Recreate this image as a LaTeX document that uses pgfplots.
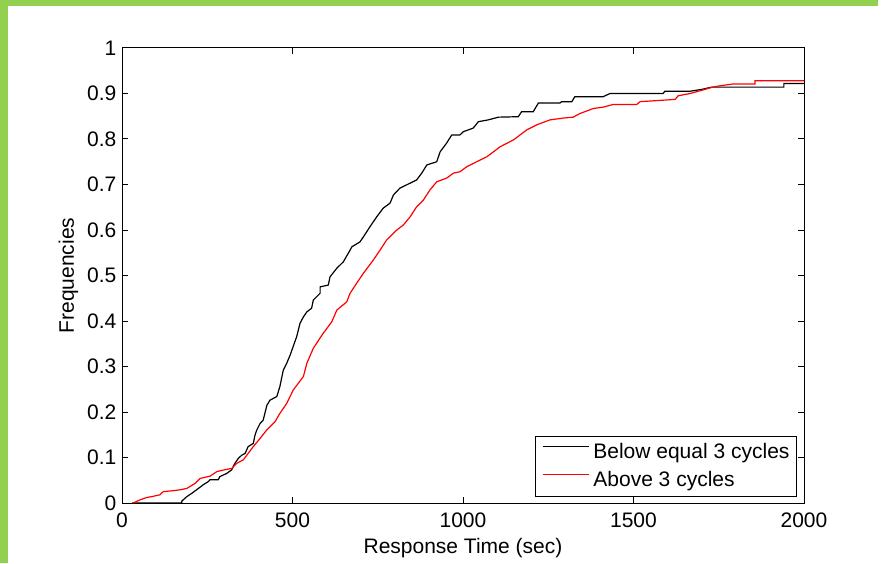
\documentclass[border=0pt]{standalone}
\usepackage{fontspec}
\setmainfont{Liberation Sans}
\usepackage{pgfplots}
\pgfplotsset{compat=1.18}
\definecolor{framegreen}{RGB}{146,208,80}

\begin{document}
\fontsize{10.5}{12.6}\selectfont
\begin{tikzpicture}
\useasboundingbox (0,0) rectangle (441.5pt,281.5pt);
\fill[white] (0,0) rectangle (441.5pt,281.5pt);
\fill[framegreen] (0,278.5pt) rectangle (439pt,281.5pt);
\fill[framegreen] (0,0) rectangle (4pt,281.5pt);
\begin{axis}[
  at={(61pt,30pt)}, anchor=south west,
  scale only axis, width=341pt, height=227.5pt,
  xmin=0, xmax=2000, ymin=0, ymax=1,
  xtick={0,500,1000,1500,2000},
  xticklabels={0,500,1000,1500,2000},
  ytick={0,0.1,0.2,0.3,0.4,0.5,0.6,0.7,0.8,0.9,1},
  yticklabels={0,0.1,0.2,0.3,0.4,0.5,0.6,0.7,0.8,0.9,1},
  xtick pos=both, ytick pos=both,
  tick align=inside,
  major tick length=3pt,
  axis line style={line width=0.5pt, black},
  every tick/.style={line width=0.5pt, black},
  tick label style={font=\fontsize{10.5}{12.6}\selectfont},
  yticklabel style={inner sep=0pt, anchor=east, xshift=-2.65pt},
  xticklabel style={inner sep=0pt, anchor=north, yshift=-4.5pt},
  xlabel={Response Time (sec)},
  ylabel={Frequencies},
  label style={font=\fontsize{10.5}{12.6}\selectfont},
  xlabel style={at={(axis description cs:0.5,-0.1099)}, anchor=base, inner sep=0pt},
  ylabel style={at={(axis description cs:-0.0704,0.5)}, anchor=base, rotate=0, inner sep=0pt},
  legend style={at={(rel axis cs:1,0)}, anchor=south east, xshift=-3.5pt, yshift=3pt,
    draw=black, line width=0.5pt, fill=white,
    inner xsep=3.5pt, inner ysep=1pt, row sep=0pt,
    font=\fontsize{10.5}{12.6}\selectfont,
    nodes={inner sep=0pt, text height=8pt, text depth=2.5pt, inner ysep=1.75pt},
    /tikz/every odd column/.style={column sep=2pt}},
  legend cell align=left,
  legend image code/.code={\draw[#1] (0pt,3pt) -- (23pt,3pt);},
]
\addplot[black, line width=0.6pt] coordinates {
(30,0) (175,0) (175,0.004) (190,0.014) (204,0.021) (224,0.032) (238,0.040)
(253,0.047) (258,0.051) (282,0.051) (287,0.058) (307,0.065) (322,0.073)
(326,0.080) (331,0.087) (341,0.098) (351,0.105) (361,0.109) (370,0.124)
(385,0.131) (390,0.149) (395,0.160) (405,0.175) (414,0.182) (425,0.215)
(434,0.226) (454,0.234) (463,0.256) (473,0.292) (483,0.307) (493,0.325)
(502,0.344) (512,0.365) (522,0.395) (532,0.409) (542,0.420) (556,0.428)
(561,0.446) (581,0.461) (581,0.475) (605,0.479) (610,0.497) (630,0.516)
(649,0.530) (669,0.556) (674,0.563) (698,0.574) (708,0.585) (727,0.607)
(747,0.629) (766,0.648) (786,0.659) (796,0.677) (815,0.692) (845,0.703)
(864,0.710) (879,0.725) (894,0.743) (923,0.750) (933,0.772) (952,0.791)
(967,0.809) (991,0.809) (1001,0.816) (1030,0.824) (1045,0.838) (1074,0.842)
(1104,0.848) (1162,0.849) (1172,0.860) (1206,0.860) (1221,0.879) (1284,0.879)
(1289,0.882) (1319,0.882) (1328,0.893) (1411,0.893) (1431,0.900) (1587,0.900)
(1592,0.905) (1666,0.905) (1700,0.909) (1729,0.914) (1856,0.914) (1941,0.914)
(1941,0.922) (2000,0.922)
};
\addlegendentry{Below equal 3 cycles}
\addplot[red, line width=0.6pt] coordinates {
(33,0) (53,0.007) (72,0.012) (87,0.014) (111,0.018) (121,0.025) (150,0.027)
(170,0.029) (190,0.032) (214,0.043) (229,0.054) (258,0.059) (278,0.069)
(307,0.074) (322,0.076) (336,0.087) (356,0.095) (370,0.109) (385,0.124)
(405,0.142) (424,0.160) (449,0.179) (463,0.197) (483,0.219) (502,0.248)
(532,0.278) (542,0.307) (561,0.340) (590,0.373) (615,0.398) (630,0.424)
(659,0.442) (669,0.461) (688,0.483) (708,0.505) (737,0.534) (757,0.556)
(776,0.578) (806,0.600) (825,0.611) (845,0.629) (864,0.651) (884,0.666)
(903,0.688) (923,0.706) (952,0.714) (972,0.725) (991,0.728) (1011,0.739)
(1040,0.750) (1070,0.761) (1109,0.783) (1148,0.798) (1187,0.820) (1216,0.831)
(1255,0.842) (1294,0.846) (1323,0.848) (1343,0.856) (1382,0.867) (1411,0.870)
(1441,0.876) (1510,0.876) (1519,0.882) (1622,0.887) (1631,0.895) (1666,0.900)
(1700,0.907) (1732,0.914) (1754,0.917) (1793,0.921) (1856,0.921) (1856,0.928)
(2000,0.928)
};
\addlegendentry{Above 3 cycles}
\end{axis}
\end{tikzpicture}
\end{document}
